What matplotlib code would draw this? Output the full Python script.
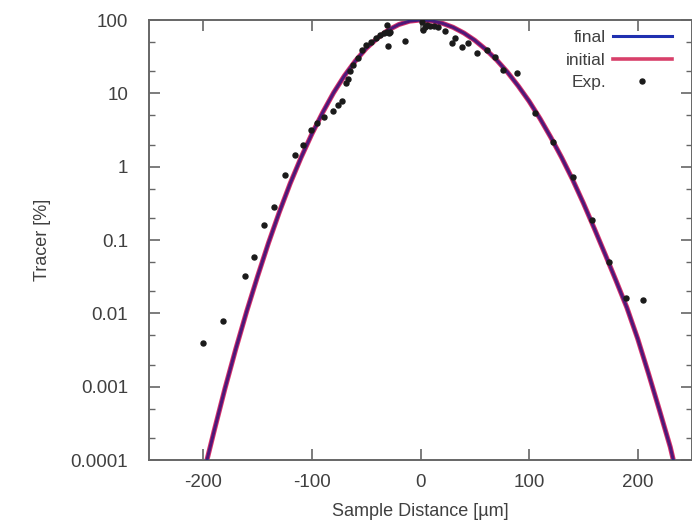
import numpy as np
import matplotlib
matplotlib.use('Agg')
import matplotlib.pyplot as plt
from matplotlib.lines import Line2D
from matplotlib.ticker import FixedLocator, FixedFormatter, LogLocator, NullFormatter

plt.rcParams['font.family'] = ['Liberation Sans', 'DejaVu Sans']

# model curve (final and initial lie on top of each other)
curve_x = [-200, -190, -180, -170, -160, -150, -140, -130, -120, -110, -100,
           -90, -80, -70, -60, -50, -40, -30, -20, -10, 0, 10, 20, 30, 40, 50, 60,
           70, 80, 90, 100, 110, 120, 130, 140, 150, 160, 170, 180, 190, 200, 210,
           220, 230, 240]
curve_final = [6.3e-5, 2.5e-4, 9.5e-4, 3.3e-3, 0.0107, 0.032, 0.091, 0.24, 0.59, 1.33, 2.8,
               5.5, 10.2, 17.4, 27.6, 41, 56, 72.5, 86.7, 96.5, 100, 97.5, 90.3, 79.5, 66.4,
               52.8, 39.8, 28.6, 19.5, 12.6, 7.8, 4.54, 2.51, 1.33, 0.67, 0.318, 0.144,
               0.064, 0.028, 0.012, 0.0045, 0.0015, 4.8e-4, 1.5e-4, 3.5e-5]
curve_initial = list(curve_final)

# experimental points
exp_x = [-200, -181.6, -161.4, -153, -144, -135, -124.6, -116, -108, -100.6, -95, -88.5,
         -80.5, -76, -72, -69, -66.5, -65, -62, -58, -54, -50, -46, -41, -37, -34, -31,
         -29, -28, -30.5, -29.5, -14.3, 1.4, 2.3, 4, 6, 9, 12, 16, 22.5, 29, 32, 38,
         43.7, 52, 61, 68.5, 76, 88.7, 105, 122, 140, 157.7, 174, 189.5, 204.5]
exp_y = [0.004, 0.0079, 0.032, 0.059, 0.16, 0.28, 0.77, 1.45, 2.0, 3.2, 4.0, 4.8,
         5.8, 7.0, 7.8, 13.8, 15.5, 20, 24, 30, 39, 45, 50, 56, 62, 66, 69,
         66, 68, 85, 44.6, 52, 94, 73, 80, 85, 82, 83, 80, 71, 49, 57, 43,
         49, 36, 39, 31, 21, 19, 5.4, 2.2, 0.72, 0.19, 0.05, 0.016, 0.015]

y_ticks = [1e-4, 1e-3, 1e-2, 1e-1, 1, 10, 100]
y_labels = ['0.0001', '0.001', '0.01', '0.1', '1', '10', '100']
x_ticks = [-200, -100, 0, 100, 200]

txt = '#404040'
fig = plt.figure(figsize=(6.92, 5.27), dpi=100)
ax = fig.add_axes([149 / 692, 1 - 460 / 527, 543 / 692, 440 / 527])

# the two curves overlap -> dark purple line with a reddish rim
ax.plot(curve_x, curve_initial, color='#d8306a', lw=3.6, zorder=2)
ax.plot(curve_x, curve_final, color='#1a1080', lw=2.2, alpha=0.72, zorder=3)
ax.plot(exp_x, exp_y, ls='none', marker='o', ms=3.6, color='#1a1a1a', zorder=4)

ax.set_yscale('log')
ax.set_xlim(-250, 250)
ax.set_ylim(1e-4, 100)
ax.yaxis.set_major_locator(FixedLocator(y_ticks))
ax.yaxis.set_major_formatter(FixedFormatter(y_labels))
ax.yaxis.set_minor_locator(LogLocator(base=10, subs=(2, 5)))
ax.yaxis.set_minor_formatter(NullFormatter())
ax.set_xticks(x_ticks)
ax.set_xticklabels([str(v) for v in x_ticks])

for s in ax.spines.values():
    s.set_color('#666666')
    s.set_linewidth(1.4)
ax.tick_params(which='both', direction='in', top=True, right=True, colors='#666666',
               labelcolor=txt, labelsize=13.5)
ax.tick_params(which='major', length=8, width=1.2)
ax.tick_params(axis='y', which='major', pad=15)
ax.tick_params(axis='x', which='major', pad=10)
ax.tick_params(which='minor', length=4, width=1.0)

ax.set_xlabel('Sample Distance [µm]', fontsize=13, color=txt, labelpad=9)
ax.set_ylabel('Tracer [%]', fontsize=13, color=txt, labelpad=14)

# gnuplot-like key: text first, sample after
handles = [Line2D([], [], color='#2030b0', lw=2.2),
           Line2D([], [], color='#d8406a', lw=2.6),
           Line2D([], [], ls='none', marker='o', ms=3.6, color='#1a1a1a')]
labels = ['final', 'initial', 'Exp.']
leg = fig.legend(handles, labels, loc='upper right',
                 bbox_to_anchor=(672 / 692, 1 - 30 / 527), bbox_transform=fig.transFigure,
                 frameon=False, markerfirst=False, fontsize=12.5, handlelength=3.4,
                 handletextpad=0.4, labelspacing=0.42, borderpad=0, borderaxespad=0,
                 numpoints=1)
for t in leg.get_texts():
    t.set_color(txt)

fig.savefig('out.png', dpi=100)
